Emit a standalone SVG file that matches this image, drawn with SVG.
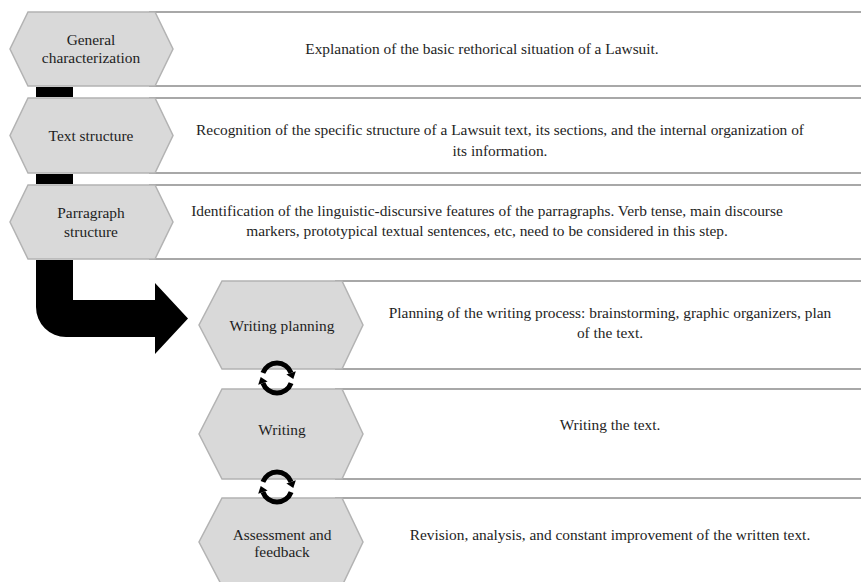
<svg xmlns="http://www.w3.org/2000/svg" xmlns:xlink="http://www.w3.org/1999/xlink" width="861" height="582" viewBox="0 0 861 582">
<style>
.band{fill:#ffffff;stroke:#a8a8a8;stroke-width:2}
.hex{fill:#d9d9d9;stroke:#b3b3b3;stroke-width:1.5}
.t{font-family:'Liberation Serif','Times New Roman',serif;font-size:15.4px;fill:#1e1e1e;text-anchor:middle}
.blk{fill:#000000}
.ring{fill:none;stroke:#000000;stroke-width:5}
</style>
<defs>
<marker id="ah" markerUnits="userSpaceOnUse" markerWidth="12" markerHeight="12" refX="0" refY="0" viewBox="-1 -6 9 12" orient="auto">
<path d="M0,-5 L6.5,0 L0,5 Z" fill="#000"/>
</marker>
<g id="cycle">
<path class="ring" d="M-14.1,-5.1 A15,15 0 0 1 14.1,-5.1" marker-end="url(#ah)"/>
<path class="ring" d="M14.1,5.1 A15,15 0 0 1 -14.1,5.1" marker-end="url(#ah)"/>
</g>
</defs>
<rect width="861" height="582" fill="#ffffff"/>

<g id="n1">
<rect class="band" x="150" y="12" width="720" height="74"/>
<polygon class="hex" points="28,12 155,12 173,49 155,86 28,86 10,49"/>
<text class="t" x="91" y="45">General</text>
<text class="t" x="91" y="63">characterization</text>
<text class="t" x="482" y="54">Explanation of the basic rethorical situation of a Lawsuit.</text>
</g>

<g id="n2">
<rect class="band" x="150" y="98" width="720" height="75"/>
<polygon class="hex" points="28,98 155,98 173,135.5 155,173 28,173 10,135.5"/>
<text class="t" x="91" y="141">Text structure</text>
<text class="t" x="500" y="135">Recognition of the specific structure of a Lawsuit text, its sections, and the internal organization of</text>
<text class="t" x="500" y="156">its information.</text>
</g>

<g id="n3">
<rect class="band" x="150" y="185" width="720" height="74"/>
<polygon class="hex" points="28,185 155,185 173,222 155,259 28,259 10,222"/>
<text class="t" x="91" y="218">Parragraph</text>
<text class="t" x="91" y="237">structure</text>
<text class="t" x="487" y="216">Identification of the linguistic-discursive features of the parragraphs. Verb tense, main discourse</text>
<text class="t" x="487" y="236">markers, prototypical textual sentences, etc, need to be considered in this step.</text>
</g>

<g id="n4">
<rect class="band" x="336" y="281" width="534" height="88"/>
<polygon class="hex" points="222,281 342,281 363,325 342,369 222,369 199,325"/>
<text class="t" x="282" y="331">Writing planning</text>
<text class="t" x="610" y="318">Planning of the writing process: brainstorming, graphic organizers, plan</text>
<text class="t" x="610" y="338">of the text.</text>
</g>

<g id="n5">
<rect class="band" x="336" y="389" width="534" height="90"/>
<polygon class="hex" points="222,389 342,389 363,434 342,479 222,479 199,434"/>
<text class="t" x="282" y="435">Writing</text>
<text class="t" x="610" y="430">Writing the text.</text>
</g>

<g id="n6">
<rect class="band" x="336" y="498" width="534" height="90"/>
<polygon class="hex" points="222,498 342,498 363,542 342,586 222,586 199,542"/>
<text class="t" x="282" y="540">Assessment and</text>
<text class="t" x="282" y="557">feedback</text>
<text class="t" x="610" y="540">Revision, analysis, and constant improvement of the written text.</text>
</g>

<g id="connectors">
<rect class="blk" x="36" y="87" width="37" height="10"/>
<rect class="blk" x="36" y="174" width="37" height="10"/>
<path class="blk" d="M36,260 L73,260 L73,300 L155,300 L155,283 L188,318.5 L155,354 L155,337 L66,337 A30,30 0 0 1 36,307 Z"/>
<use xlink:href="#cycle" x="277" y="378"/>
<use xlink:href="#cycle" x="277" y="487"/>
</g>
</svg>
